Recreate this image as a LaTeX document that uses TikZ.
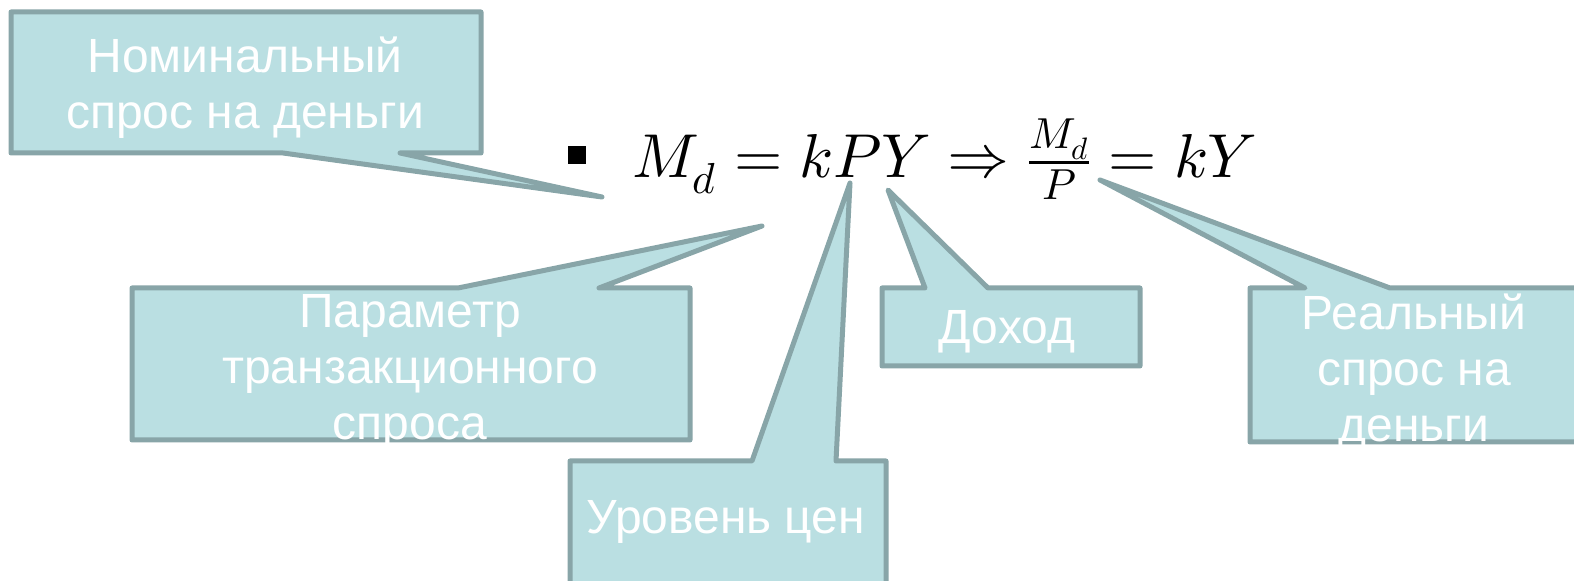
\documentclass[tikz,border=0pt]{standalone}
\usepackage{fontspec}
\usepackage{unicode-math}
\setmainfont{Liberation Sans}
\setmathfont{Latin Modern Math}
\definecolor{calfill}{RGB}{186,223,226}
\definecolor{calline}{RGB}{136,165,168}
\tikzset{
  callout/.style={fill=calfill, draw=calline, line width=2.5pt, line join=round},
  caltext/.style={text=white, align=center, font=\fontsize{24}{28}\selectfont, inner sep=0pt},
}
\begin{document}
\begin{tikzpicture}[x=0.5pt,y=-0.5pt]
\useasboundingbox (0,0) rectangle (1574,581);
\clip (0,0) rectangle (1574,581);
% formula
\fill (568,146) rectangle (586,164);
\node[anchor=base west, inner sep=0pt, font=\fontsize{31}{38}\selectfont] (formula) at (632,178)
  {$M_{d} = kPY \Rightarrow \frac{M_{d}}{P} = kY$};
% tail tips
\coordinate (tipNom) at (602,197);
\coordinate (tipPar) at (762,226);
\coordinate (tipUr) at (850,183);
\coordinate (tipDoh) at (888,190);
\coordinate (tipReal) at (1100,180);
% callouts
\draw[callout] (11,12) -- (481,12) -- (481,153) -- (400,153) -- (tipNom) -- (283,153) -- (11,153) -- cycle;
\draw[callout] (132,288) -- (458,288) -- (tipPar) -- (599,288) -- (690,288) -- (690,440) -- (132,440) -- cycle;
\draw[callout] (570,461) -- (752,461) -- (tipUr) -- (836,461) -- (886,461) -- (886,620) -- (570,620) -- cycle;
\draw[callout] (882,288) -- (925,288) -- (tipDoh) -- (988,288) -- (1140,288) -- (1140,366) -- (882,366) -- cycle;
\draw[callout] (1250,288) -- (1305,288) -- (tipReal) -- (1390,288) -- (1620,288) -- (1620,442) -- (1250,442) -- cycle;
% texts
\node[caltext] (nom) at (245,88) {Номинальный\\спрос на деньги};
\node[caltext] (par) at (410,372) {Параметр\\транзакционного\\спроса};
\node[caltext] (ur) at (726,522) {Уровень цен};
\node[caltext] (doh) at (1007,332) {Доход};
\node[caltext] (real) at (1414,372) {Реальный\\спрос на\\деньги};
\end{tikzpicture}
\end{document}
